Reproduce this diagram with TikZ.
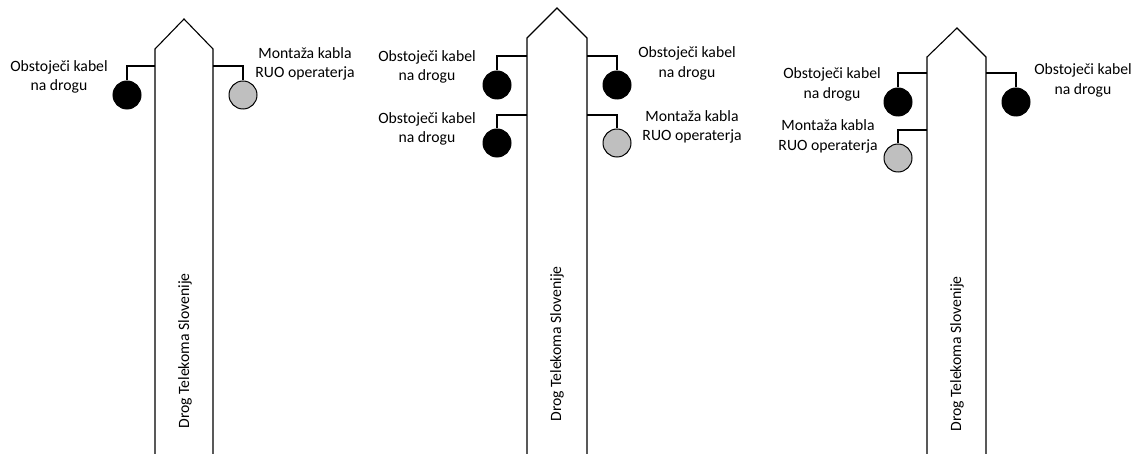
\documentclass[tikz,border=0pt]{standalone}
\usepackage{fontspec}
\setmainfont{Carlito}
\begin{document}
\begin{tikzpicture}[x=1pt,y=-1pt,
  poleline/.style={draw=black,line width=1.1pt,line join=miter},
  wire/.style={draw=black,line width=1.1pt},
  cabexist/.style={circle,draw=black,line width=1pt,fill=black,minimum size=28pt,inner sep=0pt},
  cabnew/.style={circle,draw=black,line width=1pt,fill=gray!50!white,minimum size=28pt,inner sep=0pt},
  lbl/.style={align=center,inner sep=0pt,font=\fontsize{15.7}{19.5}\selectfont},
  polelbl/.style={rotate=90,inner sep=0pt,font=\fontsize{15.7}{19}\selectfont}]
\useasboundingbox (0,0) rectangle (1134,454);
% ---------- Pole 1 ----------
\draw[poleline] (155,454) -- (155,49) -- (184,19) -- (213,49) -- (213,454);
\coordinate (p1l) at (155,66);
\coordinate (p1r) at (213,66);
\node[cabexist] (c1l) at (127,95) {};
\node[cabnew] (c1r) at (243,95) {};
\draw[wire] (p1l) -| (c1l.north);
\draw[wire] (p1r) -| (c1r.north);
\node[lbl] (t1l) at (59,77) {Obstoječi kabel\\na drogu};
\node[lbl] (t1r) at (305,64) {Montaža kabla\\RUO operaterja};
\node[polelbl] (d1) at (185,351) {Drog Telekoma Slovenije};
% ---------- Pole 2 ----------
\draw[poleline] (527,454) -- (527,38) -- (557,8) -- (587,38) -- (587,454);
\coordinate (p2lu) at (527,56);
\coordinate (p2ll) at (527,115);
\coordinate (p2ru) at (587,56);
\coordinate (p2rl) at (587,115);
\node[cabexist] (c2lu) at (497,85) {};
\node[cabexist] (c2ll) at (497,143) {};
\node[cabexist] (c2ru) at (617,85) {};
\node[cabnew] (c2rl) at (617,143) {};
\draw[wire] (p2lu) -| (c2lu.north);
\draw[wire] (p2ll) -| (c2ll.north);
\draw[wire] (p2ru) -| (c2ru.north);
\draw[wire] (p2rl) -| (c2rl.north);
\node[lbl] (t2lu) at (427,67) {Obstoječi kabel\\na drogu};
\node[lbl] (t2ll) at (427,129) {Obstoječi kabel\\na drogu};
\node[lbl] (t2ru) at (687,63.5) {Obstoječi kabel\\na drogu};
\node[lbl] (t2rl) at (692,127) {Montaža kabla\\RUO operaterja};
\node[polelbl] (d2) at (557,344) {Drog Telekoma Slovenije};
% ---------- Pole 3 ----------
\draw[poleline] (927,454) -- (927,57) -- (957,28) -- (986,57) -- (986,454);
\coordinate (p3lu) at (927,73);
\coordinate (p3ll) at (927,130);
\coordinate (p3r) at (986,73);
\node[cabexist] (c3lu) at (898,102) {};
\node[cabnew] (c3ll) at (898,158) {};
\node[cabexist] (c3r) at (1016,102) {};
\draw[wire] (p3lu) -| (c3lu.north);
\draw[wire] (p3ll) -| (c3ll.north);
\draw[wire] (p3r) -| (c3r.north);
\node[lbl] (t3lu) at (832,84.5) {Obstoječi kabel\\na drogu};
\node[lbl] (t3ll) at (828,136.5) {Montaža kabla\\RUO operaterja};
\node[lbl] (t3r) at (1083,80.5) {Obstoječi kabel\\na drogu};
\node[polelbl] (d3) at (957,354) {Drog Telekoma Slovenije};
\end{tikzpicture}
\end{document}
